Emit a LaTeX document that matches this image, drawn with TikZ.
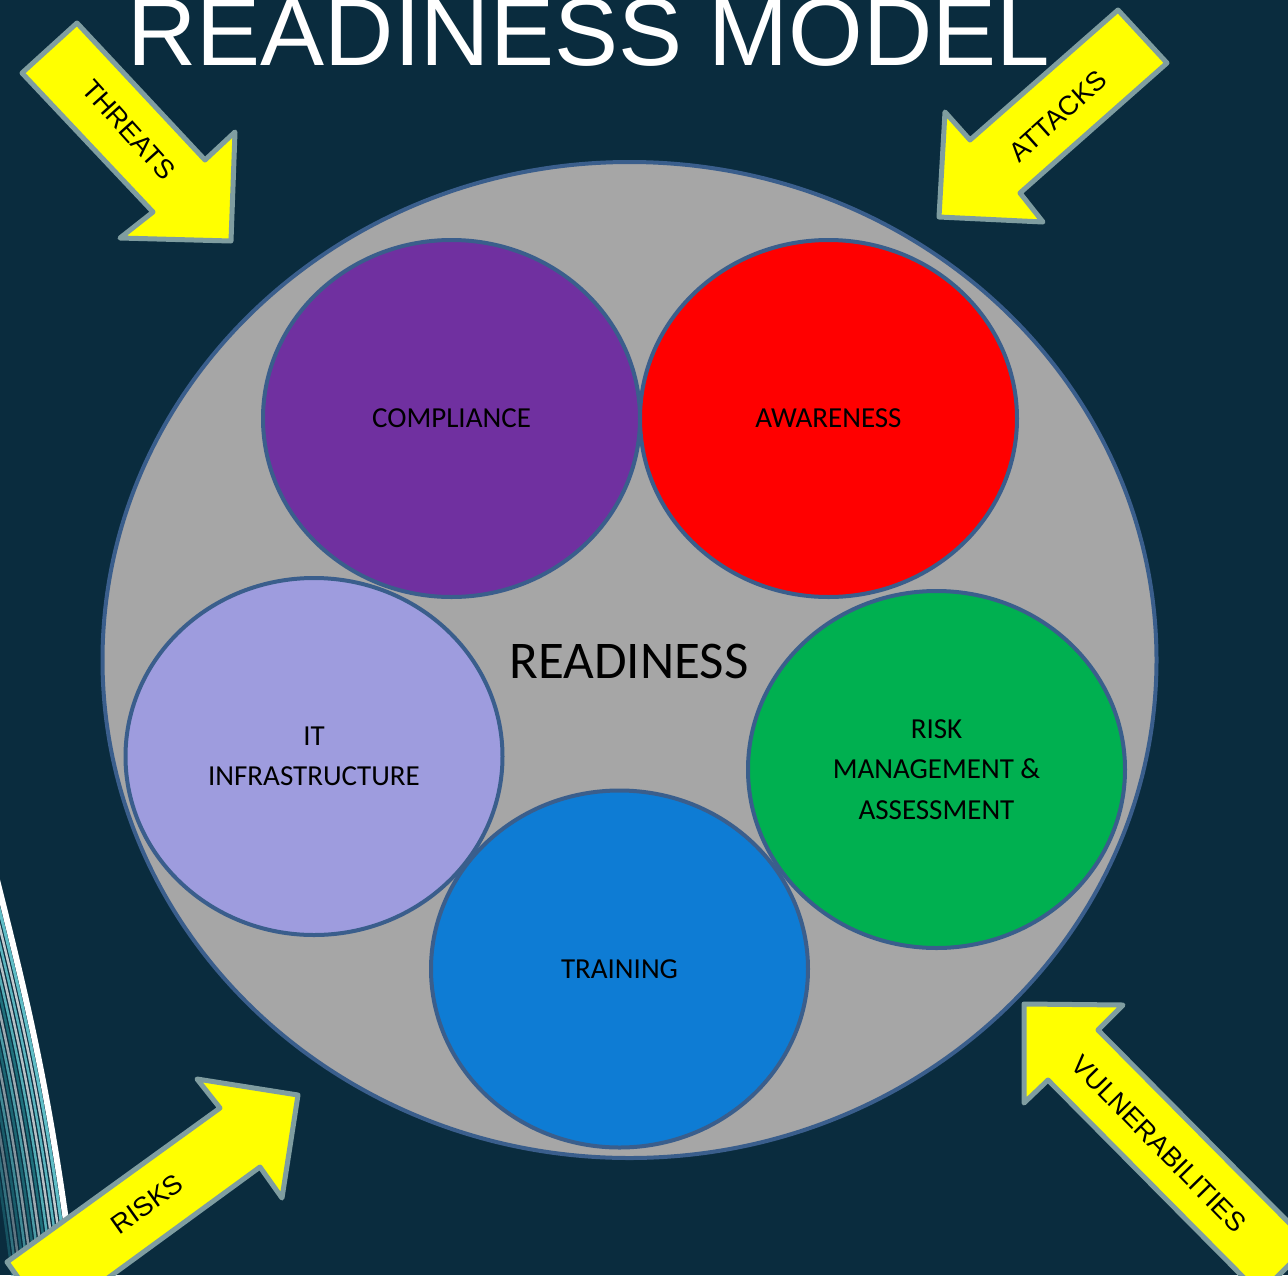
\documentclass[tikz,border=0pt]{standalone}
\usepackage{fontspec}
\setmainfont{Liberation Sans}
\newfontfamily\calfont{Carlito}
\usetikzlibrary{shapes.geometric}
\definecolor{bg}{RGB}{10,44,62}
\definecolor{ringgray}{RGB}{166,166,166}
\definecolor{edgeblue}{RGB}{58,94,140}
\definecolor{cpurple}{RGB}{112,48,160}
\definecolor{cred}{RGB}{255,0,0}
\definecolor{clav}{RGB}{158,156,222}
\definecolor{cgreen}{RGB}{0,176,80}
\definecolor{cblue}{RGB}{14,124,212}
\definecolor{arrowedge}{RGB}{127,157,160}
\definecolor{arrowfill}{RGB}{255,255,0}
\definecolor{swirlcyan}{RGB}{110,215,222}
\definecolor{swirlteal}{RGB}{40,140,150}
\tikzset{
  pillar/.style={ellipse, draw=edgeblue, line width=4pt, inner sep=0pt,
    minimum width=377pt, minimum height=357pt, align=center,
    font=\calfont\fontsize{29}{40.5}\selectfont, text=black},
  blockarrow/.style={fill=arrowfill, draw=arrowedge, line width=5pt, line join=round},
  arrowtext/.style={font=\fontsize{27}{32}\selectfont, text=black, inner sep=0pt},
  swirlline/.style={line cap=round}
}
\begin{document}
\begin{tikzpicture}[x=1pt,y=-1pt]
\fill[bg] (0,0) rectangle (1288,1275);
\useasboundingbox (0,0) rectangle (1288,1275);
\begin{scope}
\clip (0,0) rectangle (1288,1275);
% swirl at the left edge
\foreach \d/\c/\o/\w in {64/swirlteal/0.4/2.5,60/swirlcyan/0.4/2.5,56/white/0.35/2.5,52/swirlteal/0.5/2.5,48/swirlcyan/0.55/2.5,44/white/0.5/2.5,40/swirlteal/0.6/2.5,36/swirlcyan/0.65/2.5,32/white/0.6/2.5,28/swirlteal/0.7/2.5,24/swirlcyan/0.75/2.5,20/white/0.7/2.5,16/swirlcyan/0.8/2.5,12/white/0.75/2.5,8/swirlcyan/0.85/3,3/white/1/6}{
  \draw[swirlline, draw=\c, opacity=\o, line width=\w pt, xshift=-\d pt]
    (0,880) .. controls (30,1000) and (55,1100) .. (78,1290);
}
% main circle
\node[ellipse, draw=edgeblue, line width=4pt, fill=ringgray, inner sep=0pt,
  minimum width=1054pt, minimum height=996pt] (ring) at (629.5,660) {};
\node[font=\calfont\fontsize{53}{60}\selectfont, text=black, inner sep=0pt] (readiness) at (629,661) {READINESS};
% pillars
\node[pillar, fill=cpurple] (compliance) at (451.5,418.5) {COMPLIANCE};
\node[pillar, fill=cred] (awareness) at (828.5,418.5) {AWARENESS};
\node[pillar, fill=clav] (infra) at (314,756.5) {IT\\INFRASTRUCTURE};
\node[pillar, fill=cgreen] (risk) at (936.5,769.5) {RISK\\MANAGEMENT \&\\ASSESSMENT};
\node[pillar, fill=cblue] (training) at (619.5,969) {TRAINING};
% block arrows
\draw[blockarrow] (22,73) -- (77,23) -- (205,160) -- (235,132) -- (231,241) -- (120,238) -- (153,212) -- cycle;
\draw[blockarrow] (1118,10) -- (1167,63) -- (1020,193) -- (1043,222) -- (939,217) -- (945,112) -- (970,140) -- cycle;
\draw[blockarrow] (7,1262) -- (220,1108) -- (197,1079) -- (298,1095) -- (282,1198) -- (260,1167) -- (49,1321) -- cycle;
\draw[blockarrow] (1024,1004) -- (1123,1005) -- (1098,1030) -- (1310,1244) -- (1260,1294) -- (1048,1080) -- (1024,1103) -- cycle;
\end{scope}
\node[arrowtext, rotate=-48] (threats) at (129,130) {THREATS};
\node[arrowtext, rotate=42] (attacks) at (1058,116) {ATTACKS};
\node[arrowtext, rotate=35.5] (risks) at (147,1204) {RISKS};
\node[arrowtext, rotate=-45.5] (vuln) at (1159,1144) {VULNERABILITIES};
% title
\node[anchor=base, text=white, inner sep=0pt, font=\fontsize{96}{110}\selectfont] (title) at (589,65) {READINESS MODEL};
\end{tikzpicture}
\end{document}
